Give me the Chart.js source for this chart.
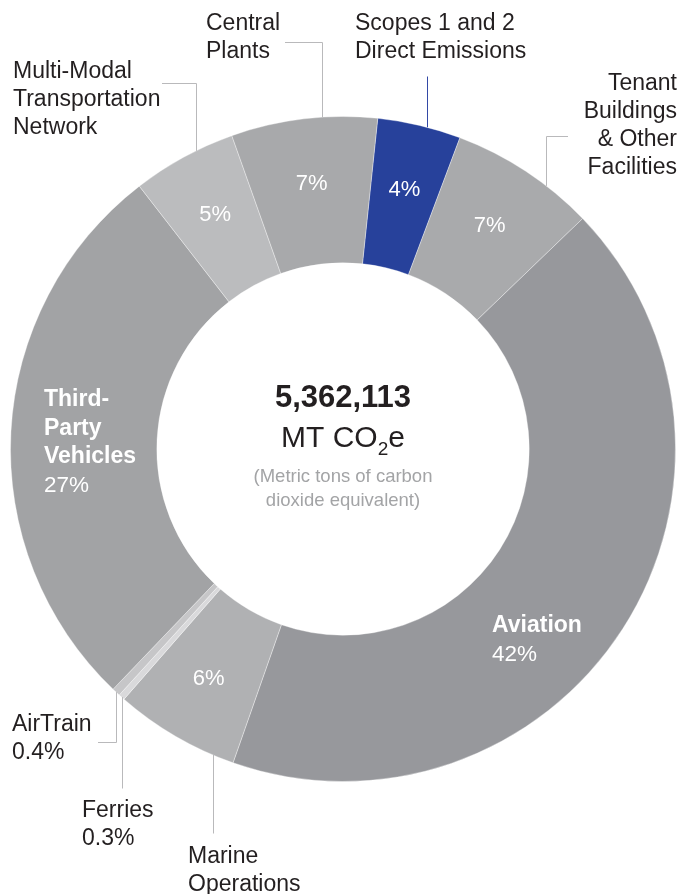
<!DOCTYPE html>
<html>
<head>
<meta charset="utf-8">
<script src="https://cdn.jsdelivr.net/npm/chart.js@4/dist/chart.umd.min.js"></script>
<style>
  html, body { margin: 0; padding: 0; background: #fff; }
  canvas { display: block; }
</style>
</head>
<body>
<canvas id="emissionsChart" width="683" height="894"></canvas>
<script>
// Share of total emissions by source, clockwise from the top
const categories = [
  "Scopes 1 and 2 Direct Emissions",
  "Tenant Buildings & Other Facilities",
  "Aviation",
  "Marine Operations",
  "Ferries",
  "AirTrain",
  "Third-Party Vehicles",
  "Multi-Modal Transportation Network",
  "Central Plants",
];
const shares = [4, 7, 42, 6, 0.3, 0.4, 27, 5, 7];
const sliceColors = [
  "#27419b", "#a9aaac", "#97989c", "#b0b1b3", "#d9d9db",
  "#c6c6c8", "#a2a3a5", "#bbbcbe", "#a8a9ab",
];
const totalEmissions = "5,362,113";

const FONT = '"Liberation Sans", Arial, sans-serif';
const TEXT = "#231f20";
const LEADER = "#b9b9bb";

// percent labels inside the ring (index into categories)
const ringLabels = [0, 1, 7, 8, 3];

// labels outside the ring with their leader lines
const callouts = [
  { i: 8, at: 0.62, elbowY: 42, endX: 285, lines: ["Central", "Plants"], x: 206, y: 24, align: "left" },
  { i: 0, at: 0.59, elbowY: 76, endX: null, lines: ["Scopes 1 and 2", "Direct Emissions"], x: 355, y: 24, align: "left", color: "#3349a6" },
  { i: 7, at: 0.63, elbowY: 83, endX: 162, lines: ["Multi-Modal", "Transportation", "Network"], x: 13, y: 72, align: "left" },
  { i: 1, at: 0.67, elbowY: 136, endX: 568, lines: ["Tenant", "Buildings", "& Other", "Facilities"], x: 677, y: 84, align: "right" },
  { i: 5, at: 0.5, elbowY: 742, endX: 98, lines: ["AirTrain", "0.4%"], x: 12, y: 725, align: "left" },
  { i: 4, at: 0.5, elbowY: 788, endX: null, lines: ["Ferries", "0.3%"], x: 82, y: 811, align: "left" },
  { i: 3, at: 0.17, elbowY: 833, endX: null, lines: ["Marine", "Operations"], x: 188, y: 857, align: "left" },
];

// bold name + percent written on the two big slices
const blockLabels = [
  { bold: ["Third-", "Party", "Vehicles"], pct: "27%", x: 44, y: 400 },
  { bold: ["Aviation"], pct: "42%", x: 492, y: 626 },
];

function pct(v) {
  return v + "%";
}

const labelPlugin = {
  id: "sliceLabels",
  afterDatasetsDraw(chart) {
    const ctx = chart.ctx;
    const arcs = chart.getDatasetMeta(0).data;
    ctx.save();
    ctx.textBaseline = "middle";

    // percent values inside the ring
    ctx.fillStyle = "#fff";
    ctx.font = "22px " + FONT;
    ctx.textAlign = "center";
    ringLabels.forEach((i) => {
      const a = arcs[i];
      const mid = (a.startAngle + a.endAngle) / 2;
      const r = a.innerRadius + (a.outerRadius - a.innerRadius) * 0.55;
      ctx.fillText(pct(shares[i]), a.x + Math.cos(mid) * r, a.y + Math.sin(mid) * r);
    });

    ctx.textAlign = "left";
    blockLabels.forEach((b) => {
      ctx.font = "bold 23px " + FONT;
      b.bold.forEach((t, k) => ctx.fillText(t, b.x, b.y + k * 28.5));
      ctx.font = "22.5px " + FONT;
      ctx.fillText(b.pct, b.x, b.y + b.bold.length * 28.5);
    });

    // leader lines and outside text
    callouts.forEach((c) => {
      const a = arcs[c.i];
      const ang = a.startAngle + (a.endAngle - a.startAngle) * c.at;
      const sx = a.x + Math.cos(ang) * a.outerRadius;
      const sy = a.y + Math.sin(ang) * a.outerRadius;
      ctx.strokeStyle = c.color || LEADER;
      ctx.lineWidth = 1;
      ctx.beginPath();
      ctx.moveTo(Math.round(sx) + 0.5, sy);
      ctx.lineTo(Math.round(sx) + 0.5, c.elbowY + 0.5);
      if (c.endX !== null) ctx.lineTo(c.endX, c.elbowY + 0.5);
      ctx.stroke();

      ctx.fillStyle = TEXT;
      ctx.font = "23px " + FONT;
      ctx.textAlign = c.align;
      c.lines.forEach((t, k) => ctx.fillText(t, c.x, c.y + k * 28));
    });

    // total in the hole
    const cx = arcs[0].x;
    const cy = arcs[0].y;
    ctx.textAlign = "center";
    ctx.fillStyle = TEXT;
    ctx.font = "bold 31px " + FONT;
    ctx.fillText(totalEmissions, cx, cy - 51);

    ctx.font = "30px " + FONT;
    const w1 = ctx.measureText("MT CO").width;
    const w3 = ctx.measureText("e").width;
    ctx.font = "19px " + FONT;
    const w2 = ctx.measureText("2").width;
    let x = cx - (w1 + w2 + w3) / 2;
    ctx.textAlign = "left";
    ctx.font = "30px " + FONT;
    ctx.fillText("MT CO", x, cy - 10);
    ctx.font = "19px " + FONT;
    ctx.fillText("2", x + w1, cy + 1);
    ctx.font = "30px " + FONT;
    ctx.fillText("e", x + w1 + w2, cy - 10);

    ctx.textAlign = "center";
    ctx.fillStyle = "#a3a4a6";
    ctx.font = "18.5px " + FONT;
    ctx.fillText("(Metric tons of carbon", cx, cy + 28);
    ctx.fillText("dioxide equivalent)", cx, cy + 52);
    ctx.restore();
  },
};

new Chart(document.getElementById("emissionsChart").getContext("2d"), {
  type: "doughnut",
  data: {
    labels: categories,
    datasets: [
      {
        data: shares,
        backgroundColor: sliceColors,
        borderColor: "rgba(255,255,255,0.35)",
        borderWidth: 1,
        hoverOffset: 0,
      },
    ],
  },
  options: {
    responsive: false,
    animation: false,
    rotation: 6,
    cutout: "56%",
    layout: { padding: { left: 10, right: 7, top: 116, bottom: 112 } },
    plugins: {
      legend: { display: false },
      tooltip: { enabled: false },
    },
  },
  plugins: [labelPlugin],
});
</script>
</body>
</html>
